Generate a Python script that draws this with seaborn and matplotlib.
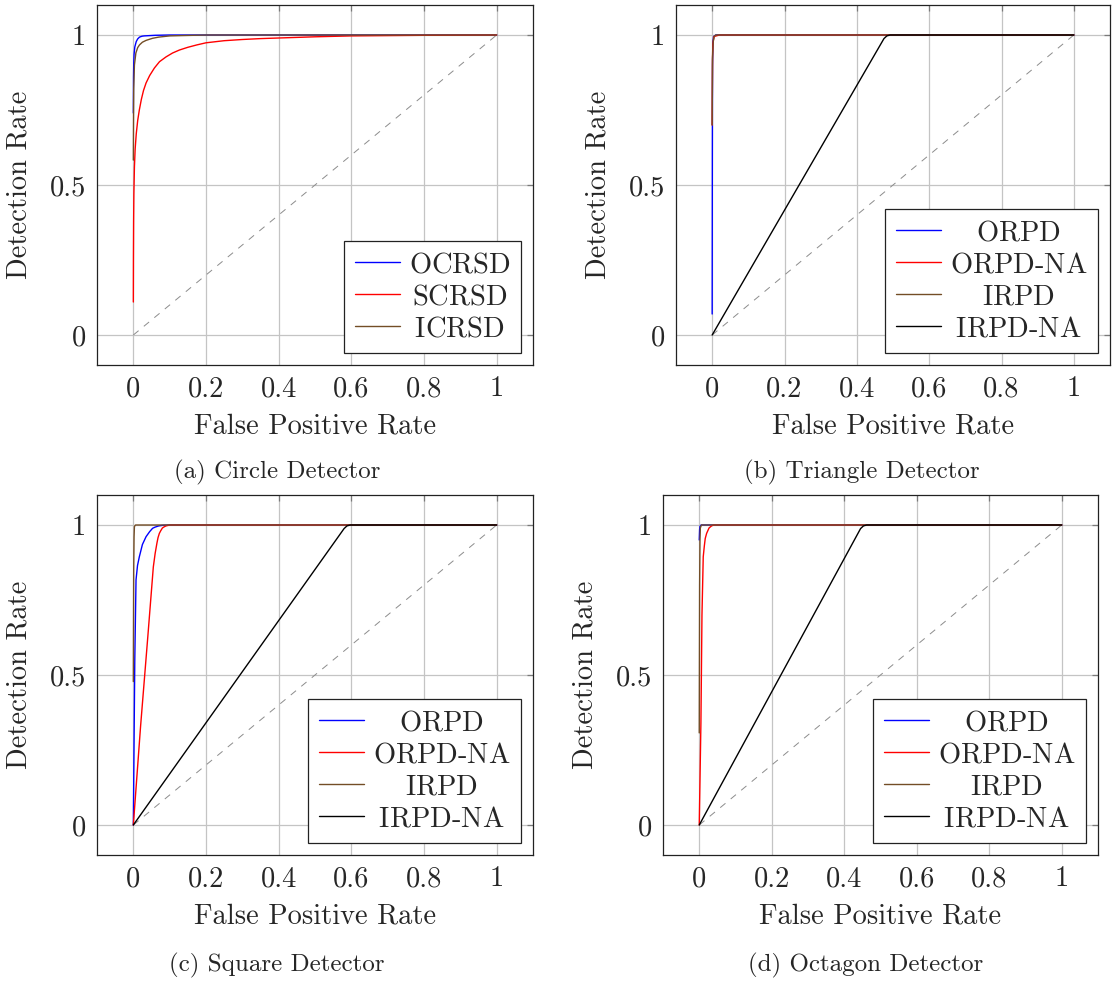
import numpy as np
import pandas as pd
import matplotlib
matplotlib.use("Agg")
import matplotlib.pyplot as plt
import seaborn as sns

# ---------------- data ----------------
# (a) Circle detector
a_ocrsd_x = [0, 0.0005, 0.001, 0.002, 0.004, 0.008, 0.012, 0.017, 0.024, 0.03, 0.045, 0.06, 0.1, 1.0]
a_ocrsd_y = [0.74, 0.86, 0.90, 0.935, 0.96, 0.978, 0.987, 0.993, 0.996, 0.997, 0.998, 0.999, 1.0, 1.0]
a_scrsd_x = [0, 0.0003, 0.0008, 0.0015, 0.003, 0.005, 0.008, 0.012, 0.0165, 0.022, 0.028, 0.035,
             0.045, 0.058, 0.072, 0.09, 0.108, 0.127, 0.15, 0.175, 0.2, 0.25, 0.3, 0.35, 0.4,
             0.5, 0.6, 0.7, 0.8, 0.9, 1.0]
a_scrsd_y = [0.11, 0.25, 0.38, 0.47, 0.56, 0.62, 0.67, 0.715, 0.75, 0.785, 0.815, 0.84,
             0.865, 0.89, 0.911, 0.927, 0.94, 0.95, 0.959, 0.967, 0.974, 0.981, 0.985, 0.988, 0.99,
             0.994, 0.997, 0.998, 0.999, 0.9995, 1.0]
a_icrsd_x = [0, 0.001, 0.003, 0.007, 0.012, 0.017, 0.025, 0.035, 0.045, 0.053, 0.07, 0.1, 0.13, 0.2, 1.0]
a_icrsd_y = [0.583, 0.82, 0.90, 0.94, 0.958, 0.967, 0.976, 0.982, 0.986, 0.989, 0.993, 0.997, 0.998, 1.0, 1.0]

# (b) Triangle detector
b_orpd_x = [0, 0.0005, 0.001, 0.002, 0.004, 0.01, 1.0]
b_orpd_y = [0.07, 0.60, 0.90, 0.975, 0.995, 1.0, 1.0]
b_orpdna_x = [0, 0.001, 0.002, 0.005, 0.02, 1.0]
b_orpdna_y = [0.70, 0.93, 0.97, 0.995, 1.0, 1.0]
b_irpd_x = [0, 0.001, 0.003, 0.006, 0.01, 1.0]
b_irpd_y = [0.70, 0.92, 0.98, 0.996, 1.0, 1.0]
b_irpdna_x = [0, 0.475, 0.483, 0.492, 1.0]
b_irpdna_y = [0, 0.988, 0.997, 1.0, 1.0]

# (c) Square detector
c_orpd_x = [0, 0.004, 0.0074, 0.0115, 0.0165, 0.025, 0.035, 0.045, 0.053, 0.06, 0.07, 0.081, 0.1, 1.0]
c_orpd_y = [0, 0.55, 0.817, 0.865, 0.894, 0.935, 0.961, 0.978, 0.989, 0.993, 0.997, 0.999, 1.0, 1.0]
c_orpdna_x = [0, 0.02, 0.04, 0.055, 0.06, 0.065, 0.068, 0.0716, 0.075, 0.08, 0.085, 0.09, 0.1, 1.0]
c_orpdna_y = [0, 0.33, 0.63, 0.86, 0.905, 0.94, 0.958, 0.972, 0.98, 0.99, 0.994, 0.997, 1.0, 1.0]
c_irpd_x = [0, 0.001, 0.002, 0.003, 0.006, 1.0]
c_irpd_y = [0.478, 0.85, 0.96, 0.995, 1.0, 1.0]
c_irpdna_x = [0, 0.58, 0.588, 0.597, 1.0]
c_irpdna_y = [0, 0.988, 0.997, 1.0, 1.0]

# (d) Octagon detector
d_orpd_x = [0, 0.001, 0.002, 0.005, 1.0]
d_orpd_y = [0.95, 0.985, 0.995, 1.0, 1.0]
d_orpdna_x = [0, 0.0046, 0.0075, 0.011, 0.014, 0.0165, 0.0203, 0.027, 0.034, 0.04, 1.0]
d_orpdna_y = [0, 0.34, 0.70, 0.894, 0.93, 0.955, 0.972, 0.99, 0.997, 1.0, 1.0]
d_irpd_x = [0, 0.001, 0.002, 0.003, 0.006, 1.0]
d_irpd_y = [0.307, 0.80, 0.95, 0.99, 1.0, 1.0]
d_irpdna_x = [0, 0.445, 0.453, 0.462, 1.0]
d_irpdna_y = [0, 0.988, 0.997, 1.0, 1.0]

diag_x = [0, 1]
diag_y = [0, 1]

x_ticks = [0, 0.2, 0.4, 0.6, 0.8, 1.0]
x_tick_labels = ["0", "0.2", "0.4", "0.6", "0.8", "1"]
y_ticks = [0, 0.5, 1.0]
y_tick_labels = ["0", "0.5", "1"]

captions = ["(a) Circle Detector", "(b) Triangle Detector",
            "(c) Square Detector", "(d) Octagon Detector"]
xlabel = "False Positive Rate"
ylabel = "Detection Rate"

# ---------------- style ----------------
sns.set_style("white")
plt.rcParams["font.family"] = ["serif"]
plt.rcParams["font.serif"] = ["cmr10", "DejaVu Serif"]
plt.rcParams["mathtext.fontset"] = "cm"
plt.rcParams["axes.formatter.use_mathtext"] = True

BLUE = "#0000ff"
RED = "#ff0000"
BROWN = "#734d26"
BLACK = "#000000"

FS = 20.5

W, H = 1112, 985
fig = plt.figure(figsize=(W / 100, H / 100), dpi=100)

def px_axes(l, t, r, b):
    return fig.add_axes([l / W, 1 - b / H, (r - l) / W, (b - t) / H])

pads3 = [0.0, 0.126, 0.237]
pads4 = [1.044, 0.0, 1.281, 0.237]

panels = [
    dict(box=(97, 5, 533, 365),
         series=[("OCRSD", a_ocrsd_x, a_ocrsd_y, BLUE),
                 ("SCRSD", a_scrsd_x, a_scrsd_y, RED),
                 ("ICRSD", a_icrsd_x, a_icrsd_y, BROWN)],
         pads=pads3, cap=(277, 472), title=captions[0]),
    dict(box=(676, 5, 1110, 365),
         series=[("ORPD", b_orpd_x, b_orpd_y, BLUE),
                 ("ORPD-NA", b_orpdna_x, b_orpdna_y, RED),
                 ("IRPD", b_irpd_x, b_irpd_y, BROWN),
                 ("IRPD-NA", b_irpdna_x, b_irpdna_y, BLACK)],
         pads=pads4, cap=(862, 472), title=captions[1]),
    dict(box=(97, 495, 533, 855),
         series=[("ORPD", c_orpd_x, c_orpd_y, BLUE),
                 ("ORPD-NA", c_orpdna_x, c_orpdna_y, RED),
                 ("IRPD", c_irpd_x, c_irpd_y, BROWN),
                 ("IRPD-NA", c_irpdna_x, c_irpdna_y, BLACK)],
         pads=pads4, cap=(277, 965), title=captions[2]),
    dict(box=(663, 495, 1098, 855),
         series=[("ORPD", d_orpd_x, d_orpd_y, BLUE),
                 ("ORPD-NA", d_orpdna_x, d_orpdna_y, RED),
                 ("IRPD", d_irpd_x, d_irpd_y, BROWN),
                 ("IRPD-NA", d_irpdna_x, d_irpdna_y, BLACK)],
         pads=pads4, cap=(866, 965), title=captions[3]),
]

for p in panels:
    ax = px_axes(*p["box"])
    ax.set_xlim(-0.1, 1.1)
    ax.set_ylim(-0.1, 1.1)
    ax.set_xticks(x_ticks)
    ax.set_xticklabels(x_tick_labels)
    ax.set_yticks(y_ticks)
    ax.set_yticklabels(y_tick_labels)
    ax.grid(True, color="#c4c4c4", linewidth=0.9)
    ax.set_axisbelow(True)
    ax.tick_params(direction="in", length=4.5, width=0.9, color="#7a7a7a",
                   top=True, right=True, labelsize=FS, pad=8)
    for s in ax.spines.values():
        s.set_color("#222222")
        s.set_linewidth(0.9)

    sns.lineplot(x=diag_x, y=diag_y, ax=ax, color="#8c8c8c", linewidth=0.7,
                 linestyle=(0, (7, 7)), estimator=None, sort=False)

    handles = []
    labels = []
    for (name, xs, ys, col), pad in zip(p["series"], p["pads"]):
        df = pd.DataFrame({"x": xs, "y": ys})
        sns.lineplot(data=df, x="x", y="y", ax=ax, color=col, linewidth=1.0,
                     estimator=None, sort=False)
        handles.append(ax.lines[-1])
        labels.append(r"$\hspace{%.3f}$%s" % (pad, name))

    ax.set_xlabel(xlabel, fontsize=FS, labelpad=8)
    ax.set_ylabel(ylabel, fontsize=FS, labelpad=12)

    leg = ax.legend(handles, labels, loc="lower right", fontsize=FS,
                    frameon=True, fancybox=False, framealpha=1.0,
                    edgecolor="#222222", borderpad=0.38, labelspacing=0.2,
                    handlelength=1.6, handletextpad=0.3, borderaxespad=0.42)
    leg.get_frame().set_linewidth(0.9)

    cx, cy = p["cap"]
    fig.text(cx / W, 1 - cy / H, p["title"], ha="center", va="center", fontsize=18)

fig.savefig("out.png", dpi=100)
